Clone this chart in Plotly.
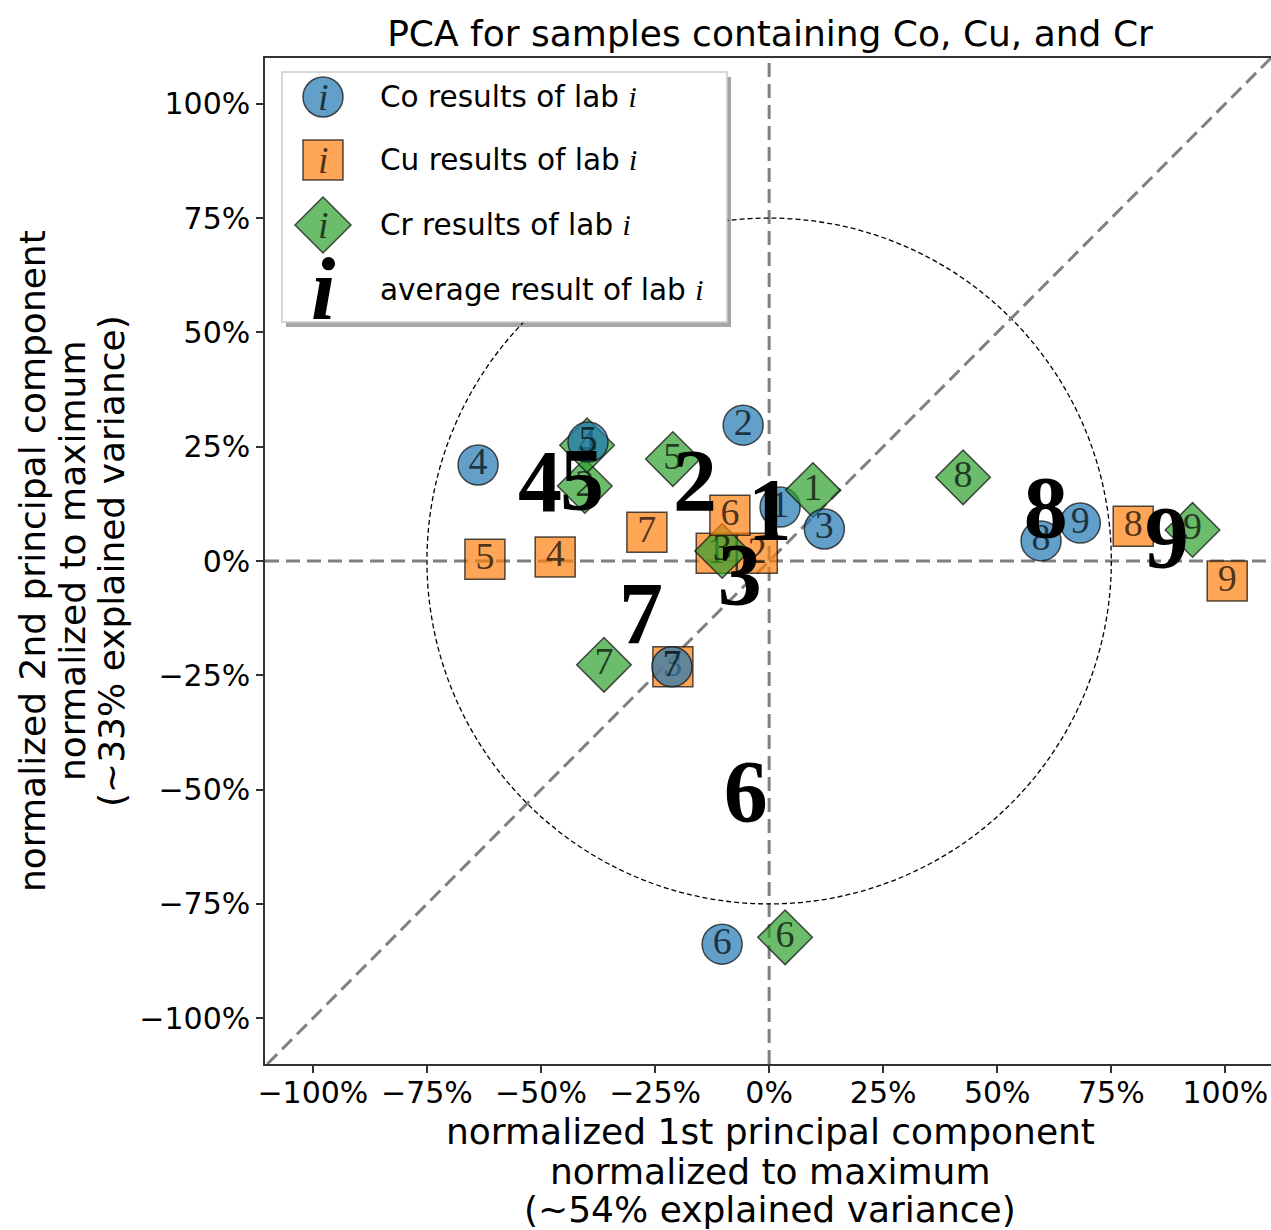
import numpy as np
import plotly.graph_objects as go

# ---------------- data ----------------
labs = ["1", "2", "3", "4", "5", "6", "7", "8", "9"]

co_x = [0.024, -0.057, 0.121, -0.638, -0.397, -0.103, -0.213, 0.596, 0.682]
co_y = [0.118, 0.297, 0.070, 0.210, 0.260, -0.838, -0.231, 0.044, 0.083]

cu_x = [-0.116, -0.026, -0.211, -0.469, -0.623, -0.086, -0.268, 0.798, 1.004]
cu_y = [0.017, 0.017, -0.231, 0.009, 0.004, 0.100, 0.063, 0.076, -0.044]

cr_x = [0.096, -0.404, -0.103, -0.399, -0.211, 0.035, -0.362, 0.425, 0.928]
cr_y = [0.155, 0.164, 0.022, 0.253, 0.223, -0.823, -0.227, 0.183, 0.068]

tick_vals = [-1.0, -0.75, -0.5, -0.25, 0.0, 0.25, 0.5, 0.75, 1.0]
circle_radius = 0.75

title_text = "PCA for samples containing Co, Cu, and Cr"
x_title_lines = ["normalized 1st principal component", "normalized to maximum",
                 "(~54% explained variance)"]
y_title_lines = ["normalized 2nd principal component", "normalized to maximum",
                 "(~33% explained variance)"]
legend_labels = ["Co results of lab", "Cu results of lab", "Cr results of lab",
                 "average result of lab"]

# averages of each lab
avg_x = np.mean([co_x, cu_x, cr_x], axis=0)
avg_y = np.mean([co_y, cu_y, cr_y], axis=0)

# ---------------- styling ----------------
SANS = "DejaVu Sans"
SERIF = "Liberation Serif"
C_CO = "rgba(31,119,180,0.7)"
C_CU = "rgba(255,127,14,0.7)"
C_CR = "rgba(44,160,44,0.7)"
EDGE = "rgba(20,20,20,0.75)"
TXT = "rgba(0,0,0,0.7)"
GRAY = "#808080"

W, H = 1271, 1230
ML, MR, MT, MB = 265, 0, 58, 166
PW, PH = W - ML - MR, H - MT - MB


def px_x(p):  # pixel -> paper x
    return (p - ML) / PW


def px_y(p):  # pixel -> paper y
    return (H - MB - p) / PH


fig = go.Figure()

specs = [
    (co_x, co_y, "circle", 40, C_CO),
    (cu_x, cu_y, "square", 40, C_CU),
    (cr_x, cr_y, "diamond", 42, C_CR),
]
for i, lab in enumerate(labs):
    for xs, ys, sym, sz, col in specs:
        fig.add_trace(go.Scatter(
            x=[xs[i]], y=[ys[i]], mode="markers+text", text=[lab],
            textposition="middle center",
            textfont=dict(family=SERIF, size=38, color=TXT),
            marker=dict(symbol=sym, size=sz, color=col,
                        line=dict(color=EDGE, width=1.5)),
            showlegend=False, hoverinfo="skip", cliponaxis=False))

fig.add_trace(go.Scatter(
    x=avg_x, y=avg_y, mode="text", text=labs, textposition="middle center",
    textfont=dict(family=SERIF, size=88, color="black", weight="bold"),
    showlegend=False, hoverinfo="skip", cliponaxis=False))

shapes = []
dash_gray = dict(color=GRAY, width=3, dash="14px,7px")
shapes.append(dict(type="circle", xref="x", yref="y", x0=-circle_radius,
                   x1=circle_radius, y0=-circle_radius, y1=circle_radius,
                   line=dict(color="black", width=1.3, dash="5px,3px"),
                   layer="below"))
shapes.append(dict(type="line", xref="x", yref="paper", x0=0, x1=0, y0=0, y1=1,
                   line=dash_gray, layer="below"))
shapes.append(dict(type="line", xref="paper", yref="y", x0=0, x1=1, y0=0, y1=0,
                   line=dash_gray, layer="below"))
shapes.append(dict(type="line", xref="x", yref="y", x0=-1.1, y0=-1.1, x1=1.1,
                   y1=1.1, line=dash_gray, layer="below"))

# legend box with shadow (drawn above the data layer)
lx0, lx1, ly0, ly1 = 282, 727, 72, 322
shapes.append(dict(type="rect", xref="paper", yref="paper",
                   x0=px_x(lx0 + 4), x1=px_x(lx1 + 4), y0=px_y(ly1 + 5), y1=px_y(ly0 + 5),
                   fillcolor="rgba(0,0,0,0.35)", line=dict(width=0), layer="above"))
shapes.append(dict(type="rect", xref="paper", yref="paper",
                   x0=px_x(lx0), x1=px_x(lx1), y0=px_y(ly1), y1=px_y(ly0),
                   fillcolor="rgba(255,255,255,1)",
                   line=dict(color="#cccccc", width=1.5), layer="above"))

gx = px_x(323)
rows_px = [97, 160, 225, 290]
ry = [px_y(r) for r in rows_px]
common = dict(xref="paper", yref="paper", xsizemode="pixel", ysizemode="pixel",
              xanchor=gx, layer="above")
shapes.append(dict(type="circle", yanchor=ry[0], x0=-20, x1=20, y0=-20, y1=20,
                   fillcolor=C_CO, line=dict(color=EDGE, width=1.5), **common))
shapes.append(dict(type="rect", yanchor=ry[1], x0=-20, x1=20, y0=-20, y1=20,
                   fillcolor=C_CU, line=dict(color=EDGE, width=1.5), **common))
shapes.append(dict(type="path", yanchor=ry[2], path="M -28 0 L 0 28 L 28 0 L 0 -28 Z",
                   fillcolor=C_CR, line=dict(color=EDGE, width=1.5), **common))

ann = []
ital = '<span style="font-family:\'Liberation Serif\'"><i>i</i></span>'
for k, lbl in enumerate(legend_labels):
    ann.append(dict(xref="paper", yref="paper", x=px_x(378), y=ry[k],
                    xanchor="left", yanchor="middle", showarrow=False,
                    text=lbl + " " + ital,
                    font=dict(family=SANS, size=29.5, color="black")))
for k in range(3):
    ann.append(dict(xref="paper", yref="paper", x=gx, y=ry[k], xanchor="center",
                    yanchor="middle", showarrow=False, text="<i>i</i>",
                    font=dict(family=SERIF, size=38, color=TXT)))
ann.append(dict(xref="paper", yref="paper", x=gx, y=ry[3], xanchor="center",
                yanchor="middle", showarrow=False, text="<b><i>i</i></b>",
                font=dict(family=SERIF, size=88, color="black")))

for k, (line, py) in enumerate(zip(x_title_lines, [1131, 1171, 1209])):
    ann.append(dict(xref="paper", yref="paper", x=px_x(770), y=px_y(py),
                    xanchor="center", yanchor="middle", showarrow=False, text=line,
                    font=dict(family=SANS, size=36, color="black")))
for k, (line, pxx) in enumerate(zip(y_title_lines, [32, 72, 111])):
    ann.append(dict(xref="paper", yref="paper", x=px_x(pxx), y=0.5,
                    xanchor="center", yanchor="middle", showarrow=False, text=line,
                    textangle=-90, font=dict(family=SANS, size=36, color="black")))

axis_common = dict(
    tickvals=tick_vals, tickformat=".0%", ticks="outside", ticklen=7,
    tickwidth=1.5, tickcolor="#333", showline=True, linecolor="#333",
    linewidth=1.5, showgrid=False, zeroline=False,
    tickfont=dict(family=SANS, size=30, color="black"))

fig.update_layout(
    width=W, height=H, margin=dict(l=ML, r=MR, t=MT, b=MB, pad=0),
    paper_bgcolor="white", plot_bgcolor="white",
    title=dict(text=title_text, x=770 / W, xanchor="center", xref="container",
               y=1 - 33 / H, yanchor="middle", yref="container",
               font=dict(family=SANS, size=36, color="black")),
    xaxis=dict(range=[-1.105, 1.1], mirror=True, ticklabelstandoff=-6,
               **axis_common),
    yaxis=dict(range=[-1.1, 1.1], mirror=False, **axis_common),
    shapes=shapes, annotations=ann, showlegend=False,
)

fig.write_html("out.html")
